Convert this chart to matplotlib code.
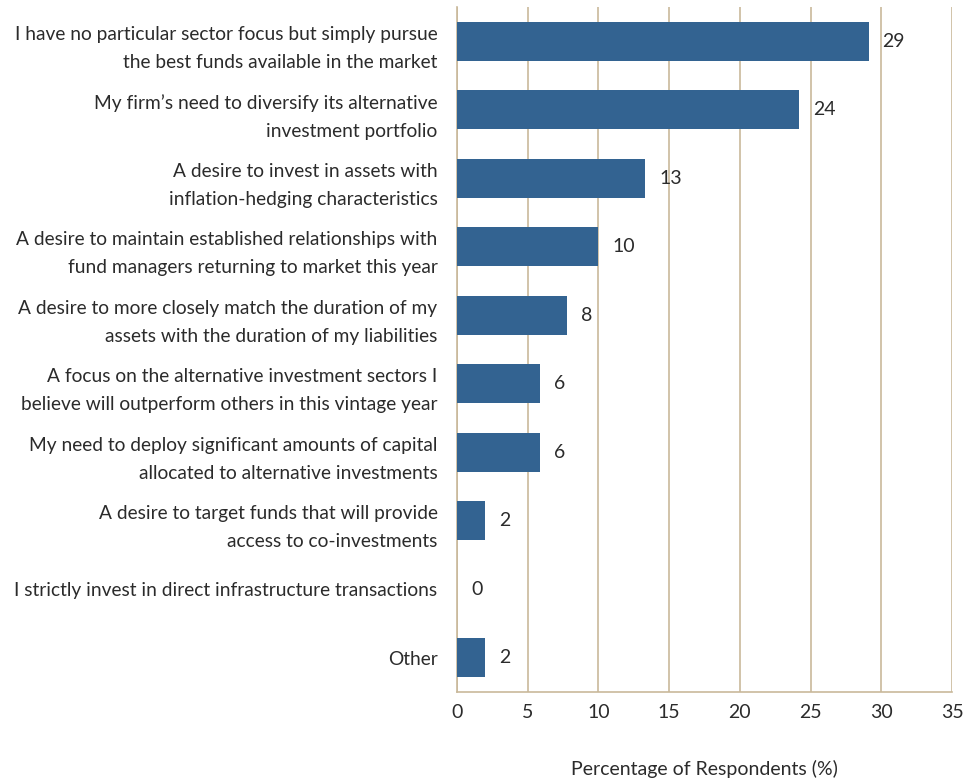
import matplotlib
matplotlib.use("Agg")
import matplotlib.pyplot as plt

categories = [
    "I have no particular sector focus but simply pursue\nthe best funds available in the market",
    "My firm\u2019s need to diversify its alternative\ninvestment portfolio",
    "A desire to invest in assets with\ninflation-hedging characteristics",
    "A desire to maintain established relationships with\nfund managers returning to market this year",
    "A desire to more closely match the duration of my\nassets with the duration of my liabilities",
    "A focus on the alternative investment sectors I\nbelieve will outperform others in this vintage year",
    "My need to deploy significant amounts of capital\nallocated to alternative investments",
    "A desire to target funds that will provide\naccess to co-investments",
    "I strictly invest in direct infrastructure transactions",
    "Other",
]
values = [29.1, 24.2, 13.3, 10.0, 7.8, 5.9, 5.9, 2.0, 0.0, 2.0]
value_labels = ["29", "24", "13", "10", "8", "6", "6", "2", "0", "2"]
xticks = [0, 5, 10, 15, 20, 25, 30, 35]

plt.rcParams['font.family'] = ['Lato', 'DejaVu Sans']
text_color = "#2b2b2b"
grid_color = "#c9b99b"
bar_color = "#336391"

fig = plt.figure(figsize=(9.66, 7.8), dpi=100)
ax = fig.add_axes([457/966, 1 - 692/780, (952-457)/966, (692-7)/780])

y = list(range(len(categories)))
ax.barh(y, values, height=0.57, color=bar_color, zorder=3)
for yi, v, lab in zip(y, values, value_labels):
    ax.annotate(lab, (v, yi), xytext=(10, 0), textcoords="offset points",
                va="center", ha="left", fontsize=14, color=text_color, zorder=4)

ax.set_xlim(0, 35)
ax.set_ylim(len(categories) - 0.5, -0.5)
ax.set_xticks(xticks)
ax.set_xticklabels([str(t) for t in xticks], fontsize=14, color=text_color)
ax.set_yticks(y)
ax.set_yticklabels(categories, fontsize=13.8, color=text_color, linespacing=1.8)
ax.tick_params(axis="x", length=0, pad=9)
ax.tick_params(axis="y", length=0, pad=14)
ax.grid(axis="x", color=grid_color, linewidth=1.2, zorder=0)
for s in ["top", "right"]:
    ax.spines[s].set_visible(False)
for s in ["left", "bottom"]:
    ax.spines[s].set_color(grid_color)
    ax.spines[s].set_linewidth(1.2)
ax.set_xlabel("Percentage of Respondents (%)", fontsize=14, color=text_color, labelpad=28)

fig.savefig("out.png", dpi=100)
